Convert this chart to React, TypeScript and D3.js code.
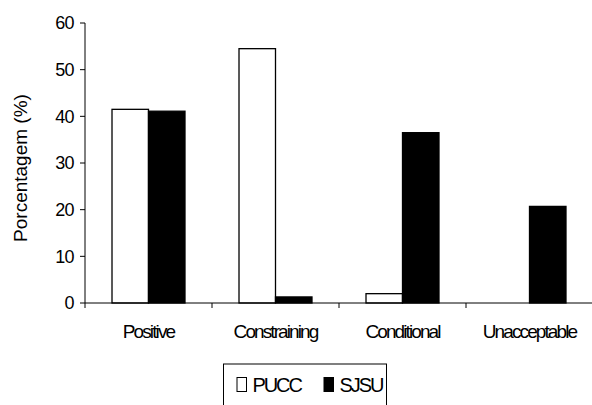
import React from "react";
import * as d3 from "d3";

const categories = ["Positive", "Constraining", "Conditional", "Unacceptable"];
const seriesNames = ["PUCC", "SJSU"];
const puccValues = [41.5, 54.5, 2.0, 0];
const sjsuValues = [41.1, 1.3, 36.5, 20.7];
const yTicks = [0, 10, 20, 30, 40, 50, 60];

const W = 592;
const H = 405;
const left = 85;
const right = 593;
const top = 23;
const bottom = 303;

export default function App() {
  const x = d3.scaleBand<string>().domain(categories).range([left, right]).paddingInner(0).paddingOuter(0);
  const inner = d3.scaleBand<string>().domain(seriesNames).range([0, x.bandwidth()]).paddingOuter(0.74).paddingInner(0);
  const y = d3.scaleLinear().domain([0, 60]).range([bottom, top]);
  const fills = ["#ffffff", "#000000"];
  const series = [puccValues, sjsuValues];
  const font = "'Liberation Sans', Arial, sans-serif";
  const tickPositions = categories.map((c) => x(c)!).concat([right]);

  return (
    <svg width={W} height={H} style={{ position: "absolute", left: 0, top: 0, background: "#fff" }} fontFamily={font}>
      <rect x={0} y={0} width={W} height={H} fill="#fff" />
      {series.map((vals, si) =>
        categories.map((c, ci) => {
          const v = vals[ci];
          if (v <= 0) return null;
          const bx = x(c)! + inner(seriesNames[si])!;
          return (
            <rect
              key={`${si}-${ci}`}
              x={bx}
              y={y(v)}
              width={inner.bandwidth()}
              height={y(0) - y(v)}
              fill={fills[si]}
              stroke="#000"
              strokeWidth={1.3}
            />
          );
        })
      )}
      <line x1={left} x2={left} y1={top} y2={bottom} stroke="#000" strokeWidth={1} />
      {yTicks.map((t) => (
        <g key={t}>
          <line x1={left - 5} x2={left} y1={y(t)} y2={y(t)} stroke="#000" />
          <text x={left - 11} y={y(t)} dy="0.36em" textAnchor="end" fontSize={18} letterSpacing={-0.6} fill="#000">
            {t}
          </text>
        </g>
      ))}
      <line x1={left} x2={right} y1={bottom} y2={bottom} stroke="#000" strokeWidth={1} />
      {tickPositions.map((p, i) => (
        <line key={i} x1={p} x2={p} y1={bottom} y2={bottom + 5} stroke="#000" />
      ))}
      {categories.map((c) => (
        <text
          key={c}
          x={x(c)! + x.bandwidth() / 2}
          y={338}
          textAnchor="middle"
          fontSize={19}
          letterSpacing={-1.9}
          fill="#000"
        >
          {c}
        </text>
      ))}
      <text
        transform={`translate(27, 168) rotate(-90)`}
        textAnchor="middle"
        fontSize={19}
        fill="#000"
      >
        Porcentagem (%)
      </text>
      <rect x={223.5} y={364} width={163} height={50} fill="#fff" stroke="#000" strokeWidth={1} />
      {seriesNames.map((s, i) => {
        const lx = [237, 324][i];
        return (
          <g key={s}>
            <rect x={lx} y={377.5} width={9.5} height={14} fill={fills[i]} stroke="#000" strokeWidth={1} />
            <text x={lx + 15.5} y={392} fontSize={20} letterSpacing={-2.1} fill="#000">
              {s}
            </text>
          </g>
        );
      })}
    </svg>
  );
}
